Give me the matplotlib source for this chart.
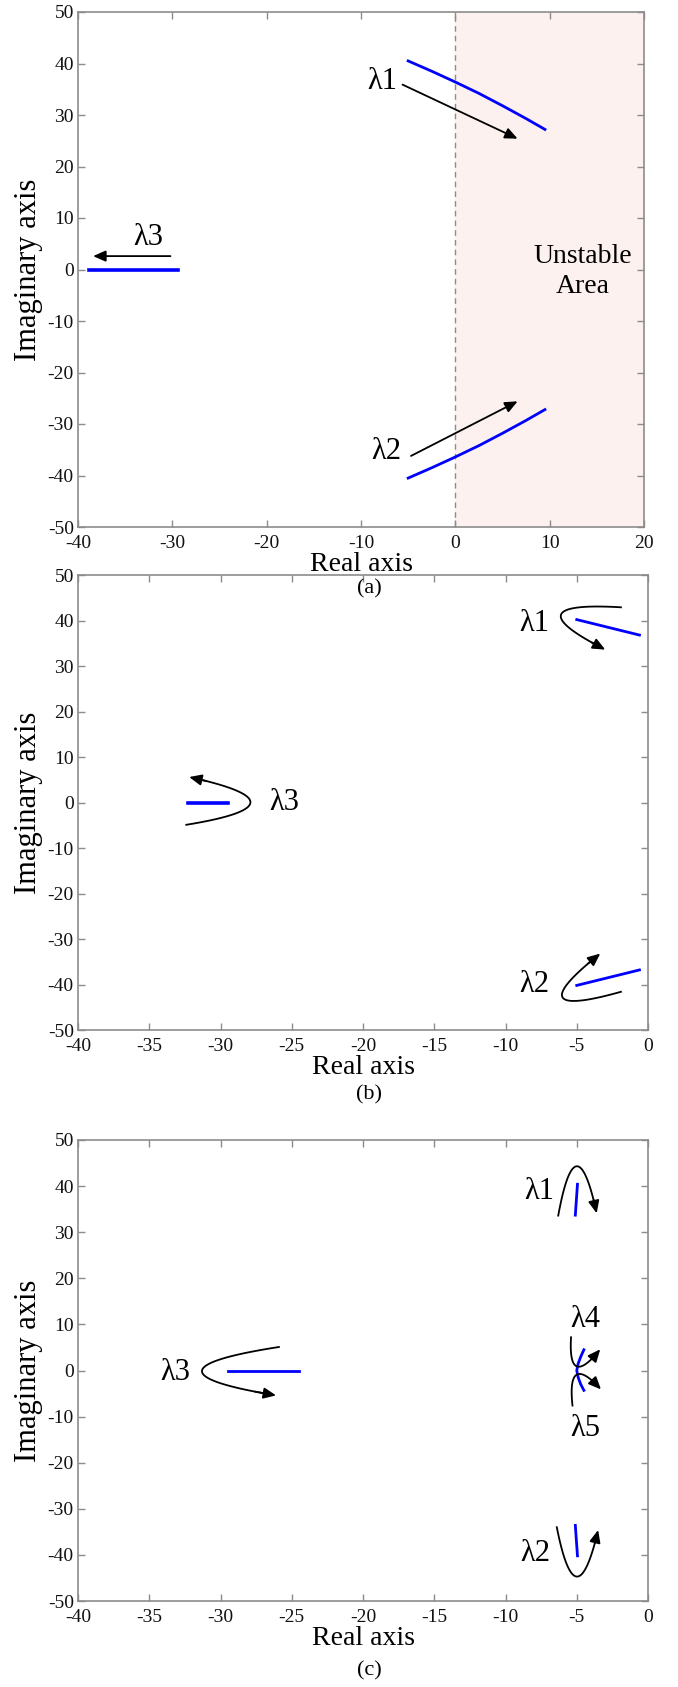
import numpy as np
import matplotlib
matplotlib.use('Agg')
from matplotlib import pyplot as plt

plt.rcParams['font.family'] = ['Liberation Serif', 'DejaVu Serif']
plt.rcParams['axes.unicode_minus'] = False

W, H = 678, 1687

# --- panel (a): eigenvalue loci
a_l1_x = [-5, -2.5, 0, 2.5, 5, 7.5, 9.5]
a_l1_y = [40.5, 38.5, 36.4, 34.2, 31.8, 29.3, 27.2]
a_l2_x = a_l1_x
a_l2_y = [-v for v in a_l1_y]
a_l3_x = [-38.8, -29.4]
a_l3_y = [0, 0]

# --- panel (b)
b_l1_x = [-5, -0.6]
b_l1_y = [40.2, 36.8]
b_l2_x = [-5, -0.6]
b_l2_y = [-40.2, -36.8]
b_l3_x = [-32.3, -29.5]
b_l3_y = [0, 0]

# --- panel (c)
c_l1_x = [-4.95, -5.1]
c_l1_y = [40.4, 33.7]
c_l2_x = [-5.1, -4.95]
c_l2_y = [-33.6, -40.2]
c_l3_x = [-29.5, -24.5]
c_l3_y = [0, 0]
c_l45_x = [-4.5, -4.72, -4.9, -5.0, -4.9, -4.72, -4.5]
c_l45_y = [4.5, 3, 1.5, 0, -1.5, -3, -4.3]

blue = '#0000ff'
grey = '#8c8c8c'
head = '-|>,head_length=0.5,head_width=0.22'


def make_axes(fig, left, right, top, bottom):
    ax = fig.add_axes([left / W, 1 - bottom / H, (right - left) / W, (bottom - top) / H])
    for s in ax.spines.values():
        s.set_color(grey)
        s.set_linewidth(1.2)
    ax.tick_params(direction='in', top=True, right=True, length=5, width=1,
                   color=grey, labelsize=14, labelcolor='#111111', pad=3)
    ax.tick_params(axis='x', pad=6)
    ax.set_ylim(-50, 50)
    ax.set_yticks(np.arange(-50, 51, 10))
    ax.set_ylabel('Imaginary axis', fontsize=22, labelpad=3)
    ax.set_xlabel('Real axis', fontsize=20, labelpad=0)
    return ax


def curve_arrow(ax, p0, pm, p2):
    p0, pm, p2 = np.asarray(p0, float), np.asarray(pm, float), np.asarray(p2, float)
    c = 2 * pm - 0.5 * (p0 + p2)
    t = np.linspace(0, 1, 80)[:, None]
    pts = (1 - t) ** 2 * p0 + 2 * (1 - t) * t * c + t ** 2 * p2
    ax.plot(pts[:-4, 0], pts[:-4, 1], color='k', lw=1.3)
    ax.annotate('', xy=pts[-1], xytext=pts[-7],
                arrowprops=dict(arrowstyle=head, color='k', lw=1.3,
                                mutation_scale=15, shrinkA=0, shrinkB=0))


def straight_arrow(ax, p0, p1):
    ax.annotate('', xy=p1, xytext=p0,
                arrowprops=dict(arrowstyle=head, color='k', lw=1.3,
                                mutation_scale=15, shrinkA=0, shrinkB=0))


fig = plt.figure(figsize=(W / 100, H / 100), dpi=100)
lam = dict(fontsize=22, ha='center', va='center')

# --- (a)
ax = make_axes(fig, 78, 644, 12, 527)
ax.set_xlim(-40, 20)
ax.set_xticks(np.arange(-40, 21, 10))
ax.axvspan(0, 20, color='#fcf1ef', zorder=0)
ax.axvline(0, color=grey, lw=1, ls='--', dashes=(4, 3))
ax.plot(a_l1_x, a_l1_y, color=blue, lw=2.0)
ax.plot(a_l2_x, a_l2_y, color=blue, lw=2.0)
ax.plot(a_l3_x, a_l3_y, color=blue, lw=2.6)
straight_arrow(ax, (-5.6, 35.9), (6.6, 25.4))
straight_arrow(ax, (-4.7, -36.2), (6.6, -25.6))
straight_arrow(ax, (-30.2, 2.6), (-38.4, 2.6))
ax.text(-7.8, 36.5, 'λ1', **lam)
ax.text(-7.3, -35.3, 'λ2', **lam)
ax.text(-32.6, 6.2, 'λ3', **lam)
ax.text(13.5, -0.4, 'Unstable\nArea', fontsize=20, ha='center', va='center', linespacing=1.3)
fig.text(369 / W, 1 - 589 / H, '(a)', fontsize=16, ha='center', va='center')

# --- (b)
ax = make_axes(fig, 78, 648, 575, 1030)
ax.set_xlim(-40, 0)
ax.set_xticks(np.arange(-40, 1, 5))
ax.plot(b_l1_x, b_l1_y, color=blue, lw=2.0)
ax.plot(b_l2_x, b_l2_y, color=blue, lw=2.0)
ax.plot(b_l3_x, b_l3_y, color=blue, lw=2.6)
curve_arrow(ax, (-1.9, 42.9), (-6.1, 41.3), (-3.0, 33.6))
curve_arrow(ax, (-1.9, -41.6), (-6.0, -42.8), (-3.35, -33.2))
curve_arrow(ax, (-32.4, -4.9), (-27.9, 0.0), (-32.2, 5.6))
ax.text(-8.0, 39.3, 'λ1', **lam)
ax.text(-8.0, -40.0, 'λ2', **lam)
ax.text(-25.5, 0.0, 'λ3', **lam)
fig.text(369 / W, 1 - 1095 / H, '(b)', fontsize=16, ha='center', va='center')

# --- (c)
ax = make_axes(fig, 78, 648, 1140, 1601)
ax.set_xlim(-40, 0)
ax.set_xticks(np.arange(-40, 1, 5))
ax.plot(c_l1_x, c_l1_y, color=blue, lw=2.0)
ax.plot(c_l2_x, c_l2_y, color=blue, lw=2.0)
ax.plot(c_l3_x, c_l3_y, color=blue, lw=2.0)
ax.plot(c_l45_x, c_l45_y, color=blue, lw=2.0)
curve_arrow(ax, (-6.3, 33.6), (-5.0, 44.3), (-3.6, 34.1))
curve_arrow(ax, (-6.4, -34.0), (-5.0, -44.7), (-3.5, -34.6))
curve_arrow(ax, (-25.9, 5.1), (-31.3, -0.1), (-26.1, -5.4))
curve_arrow(ax, (-5.4, 7.2), (-5.0, 0.9), (-3.35, 4.6))
curve_arrow(ax, (-5.3, -7.6), (-5.0, -0.9), (-3.3, -4.1))
ax.text(-7.6, 38.8, 'λ1', **lam)
ax.text(-7.9, -39.8, 'λ2', **lam)
ax.text(-33.2, -0.4, 'λ3', **lam)
ax.text(-4.4, 11.0, 'λ4', **lam)
ax.text(-4.4, -12.6, 'λ5', **lam)
fig.text(369 / W, 1 - 1671 / H, '(c)', fontsize=16, ha='center', va='center')

fig.savefig('out.png', dpi=100)
